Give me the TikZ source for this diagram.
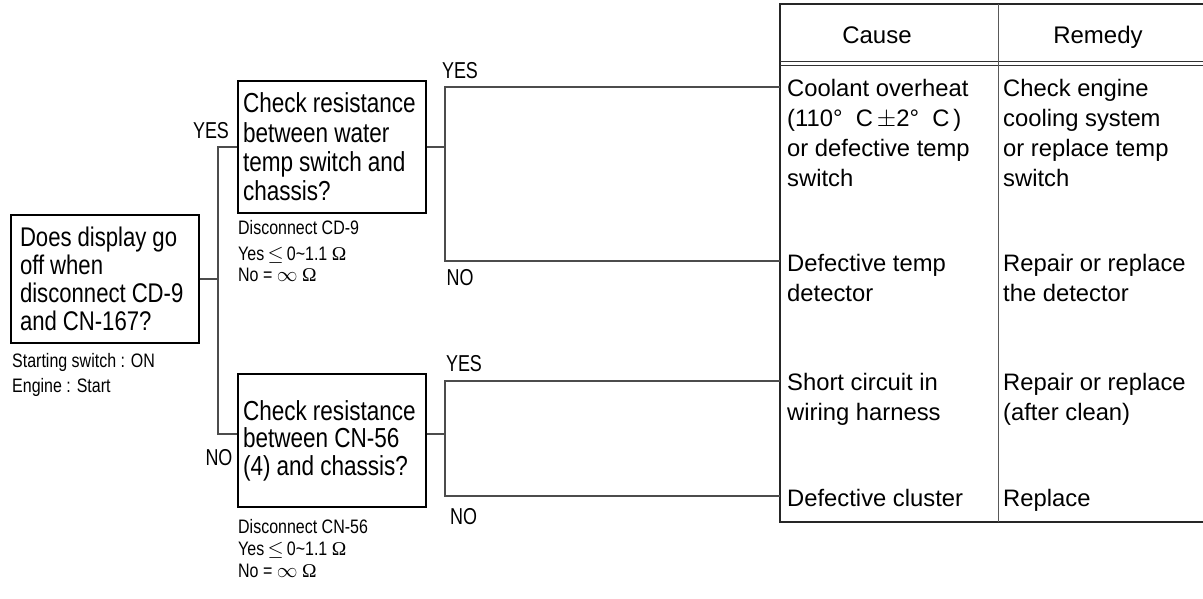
\documentclass[tikz,border=0pt]{standalone}
\usepackage{fontspec}
\setmainfont{Liberation Sans}
\newfontfamily\condfont[FakeStretch=0.78,WordSpace=0.75]{Liberation Sans}
\newfontfamily\notefont[FakeStretch=0.82,WordSpace=0.75]{Liberation Sans}
\newfontfamily\boxfont[FakeStretch=0.82]{Liberation Sans}
\newfontfamily\omegafont{Liberation Serif}
\newcommand\tightspaces{\spaceskip=0.22em plus 0.05em\relax}
\begin{document}
\begin{tikzpicture}[x=1pt,y=-1pt,
  qbox/.style={draw=black, line width=1.3pt, align=left, inner ysep=0pt,
               execute at begin node=\tightspaces},
  conn/.style={draw=black!70, line width=1.1pt},
  tline/.style={draw=black!85, line width=1.4pt},
  ttext/.style={font=\fontsize{23.8}{30}\selectfont, anchor=north west, inner sep=0pt, align=left},
  htext/.style={font=\fontsize{24}{24}\selectfont, anchor=base, inner sep=0pt},
  ntext/.style={font=\notefont\fontsize{19.5}{19.5}\selectfont, anchor=west, inner sep=0pt,
                text height=12.5pt, text depth=3pt},
  yn/.style={font=\condfont\fontsize{23}{23}\selectfont, inner sep=0pt}
]
\useasboundingbox (0,0) rectangle (1203,598);

% question boxes
\node[qbox, font=\boxfont\fontsize{27}{28}\selectfont,
      minimum width=188pt, minimum height=128pt,
      text width=170pt, inner xsep=9pt] (q1) at (105,279)
  {Does display go\\off when\\disconnect CD-9\\and CN-167?};
\node[qbox, font=\boxfont\fontsize{27.5}{29.3}\selectfont,
      minimum width=188pt, minimum height=132pt,
      text width=178pt, inner xsep=5pt] (q2) at (332,147)
  {Check resistance\\between water\\temp switch and\\chassis?};
\node[qbox, font=\boxfont\fontsize{27.5}{27.5}\selectfont,
      minimum width=188pt, minimum height=133pt,
      text width=178pt, inner xsep=5pt] (q3) at (332,440.5)
  {Check resistance\\between CN-56\\(4) and chassis?};

% notes
\node[ntext] (n1a) at (12,363) {Starting switch : ON};
\node[ntext] (n1b) at (12,388) {Engine : Start};
\node[ntext] (n2a) at (238,230) {Disconnect CD-9};
\node[ntext] (n2b) at (238,256) {Yes\,$\leq$\,0\textasciitilde1.1 {\omegafont Ω}};
\node[ntext] (n2c) at (238,277) {No = $\infty$ {\omegafont Ω}};
\node[ntext] (n3a) at (238,529) {Disconnect CN-56};
\node[ntext] (n3b) at (238,551) {Yes\,$\leq$\,0\textasciitilde1.1 {\omegafont Ω}};
\node[ntext] (n3c) at (238,572.5) {No = $\infty$ {\omegafont Ω}};

% yes / no labels
\node[yn] (y1) at (211,131) {YES};
\node[yn] (no1) at (219,458) {NO};
\node[yn] (y2) at (460,71) {YES};
\node[yn] (no2) at (460,278) {NO};
\node[yn] (y3) at (464,364) {YES};
\node[yn] (no3) at (463.5,517) {NO};

% table
\draw[tline] (1203,4) -- (780,4) -- (780,522) -- (1203,522);
\draw[draw=black!80, line width=1pt] (780,61.5) -- (1203,61.5);
\draw[draw=black!80, line width=1pt] (780,65) -- (1203,65);
\draw[draw=black!65, line width=1pt] (998,4) -- (998,522);

\node[htext] (hc) at (877,43) {Cause};
\node[htext] (hr) at (1098,43) {Remedy};

\node[ttext] (c1) at (787,79.5) {Coolant overheat\\(110°\ \ C\,$\pm$2°\ \ C\,)\\or defective temp\\switch};
\node[ttext] (c2) at (787,254) {Defective temp\\detector};
\node[ttext] (c3) at (787,373) {Short circuit in\\wiring harness};
\node[ttext] (c4) at (787,489) {Defective cluster};
\node[ttext] (r1) at (1003,79.5) {Check engine\\cooling system\\or replace temp\\switch};
\node[ttext] (r2) at (1003,254) {Repair or replace\\the detector};
\node[ttext] (r3) at (1003,373) {Repair or replace\\(after clean)};
\node[ttext] (r4) at (1003,489) {Replace};

% connectors
\coordinate (j1) at (218,279);
\coordinate (j2) at (445,147);
\coordinate (j3) at (445,434);
\coordinate (e1) at (780,87);
\coordinate (e2) at (780,261);
\coordinate (e3) at (780,381);
\coordinate (e4) at (780,496);

\draw[conn] (q1.east) -- (j1);
\draw[conn] (q2.west) -| (j1) |- ([yshift=6.5pt]q3.west);
\draw[conn] (q2.east) -- (j2);
\draw[conn] (e1) -| (j2) |- (e2);
\draw[conn] ([yshift=6.5pt]q3.east) -- (j3);
\draw[conn] (e3) -| (j3) |- (e4);
\end{tikzpicture}
\end{document}
